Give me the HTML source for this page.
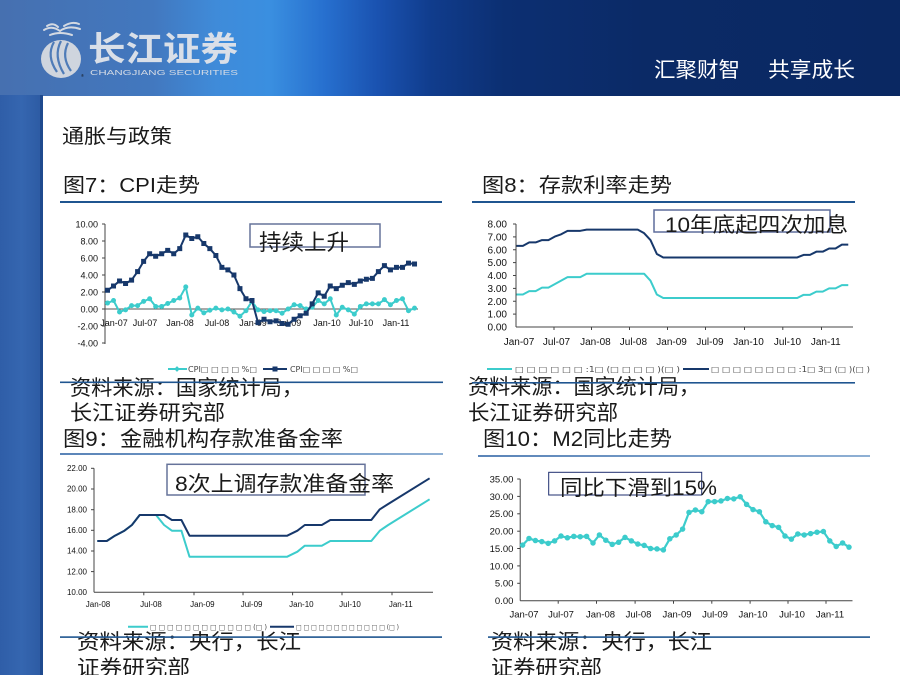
<!DOCTYPE html>
<html>
<head>
<meta charset="utf-8">
<style>
html,body{margin:0;padding:0;background:#fff;}
body{width:900px;height:675px;overflow:hidden;}
svg{display:block;}
.cj{font-family:"Liberation Sans","Noto Sans CJK SC",sans-serif;}
.ax{font-family:"Liberation Sans",sans-serif;fill:#111;}
.lg{font-family:"DejaVu Sans","Liberation Sans",sans-serif;fill:#444;}
</style>
</head>
<body>
<svg width="900" height="675" viewBox="0 0 900 675" xmlns="http://www.w3.org/2000/svg">
<defs>
<linearGradient id="hdr" x1="0" y1="0" x2="1" y2="0">
<stop offset="0" stop-color="#4670b0"/>
<stop offset="0.17" stop-color="#4278bf"/>
<stop offset="0.24" stop-color="#3f8bd9"/>
<stop offset="0.30" stop-color="#3a8fe0"/>
<stop offset="0.36" stop-color="#2770cf"/>
<stop offset="0.42" stop-color="#1a52b0"/>
<stop offset="0.48" stop-color="#103c8c"/>
<stop offset="0.56" stop-color="#0c2f72"/>
<stop offset="0.72" stop-color="#0b2a66"/>
<stop offset="1" stop-color="#0a2862"/>
</linearGradient>
<linearGradient id="strip" x1="0" y1="0" x2="1" y2="0">
<stop offset="0" stop-color="#2f5ea8"/>
<stop offset="0.5" stop-color="#3566b0"/>
<stop offset="1" stop-color="#2c5aa2"/>
</linearGradient>
<linearGradient id="lt" x1="0" y1="0" x2="1" y2="0">
<stop offset="0" stop-color="#5a84b8"/>
<stop offset="1" stop-color="#8fb0d4"/>
</linearGradient>
</defs>

<!-- background -->
<rect x="0" y="0" width="900" height="675" fill="#fff"/>
<!-- header -->
<rect x="0" y="0" width="900" height="96" fill="url(#hdr)"/>
<!-- left strip -->
<rect x="0" y="95" width="43" height="580" fill="url(#strip)"/>
<rect x="40" y="95" width="3" height="580" fill="#1f4a8e"/>

<!-- logo -->
<g fill="none" stroke="#d3d9e2" stroke-width="2" stroke-linecap="round">
<path d="M44,30 Q52,25 60,31 Q68,25 80,29"/>
<path d="M47,26 Q53,22 58,27"/>
<path d="M64,26 Q72,21 79,24"/>
<path d="M50,35 Q60,31 72,35"/>
</g>
<ellipse cx="61" cy="59" rx="20" ry="19" fill="#cfd5de"/>
<g fill="none" stroke="#4f7cb8" stroke-width="2.2">
<path d="M54,42 Q46,56 57,72"/>
<path d="M61,41 Q53,56 64,74"/>
<path d="M68,43 Q61,57 71,71"/>
</g>
<text x="81" y="77" font-size="4" fill="#d0d6e0" class="ax">®</text>
<text x="88" y="61" class="cj" font-size="34" font-weight="bold" fill="#d9dfe8" textLength="150" lengthAdjust="spacingAndGlyphs">长江证券</text>
<text x="90" y="75" font-family="Liberation Sans,sans-serif" font-size="7.5" fill="#d3dae5" textLength="148" lengthAdjust="spacingAndGlyphs">CHANGJIANG SECURITIES</text>

<!-- slogan -->
<text x="654" y="77" class="cj" font-size="21" fill="#ffffff" textLength="86" lengthAdjust="spacingAndGlyphs">汇聚财智</text>
<text x="768" y="77" class="cj" font-size="21" fill="#ffffff" textLength="87" lengthAdjust="spacingAndGlyphs">共享成长</text>

<!-- section titles -->
<text x="62" y="143" class="cj" font-size="20" fill="#1a1a1a" textLength="110" lengthAdjust="spacingAndGlyphs">通胀与政策</text>
<text x="63" y="192" class="cj" font-size="20" fill="#1a1a1a" textLength="137" lengthAdjust="spacingAndGlyphs">图7：CPI走势</text>
<text x="482" y="192" class="cj" font-size="20" fill="#1a1a1a" textLength="190" lengthAdjust="spacingAndGlyphs">图8：存款利率走势</text>
<rect x="60" y="201" width="382" height="2" fill="#1f5590"/>
<rect x="472" y="201" width="383" height="2" fill="#1f5590"/>

<!-- ================= CHART 7 ================= -->
<g class="ax" font-size="9" text-anchor="end">
<text x="98" y="227.5">10.00</text>
<text x="98" y="244.5">8.00</text>
<text x="98" y="261.5">6.00</text>
<text x="98" y="278.5">4.00</text>
<text x="98" y="295.5">2.00</text>
<text x="98" y="312.5">0.00</text>
<text x="98" y="329.5">-2.00</text>
<text x="98" y="346.5">-4.00</text>
</g>
<g stroke="#444" stroke-width="1">
<line x1="105" y1="224" x2="105" y2="344"/>
<line x1="102" y1="224" x2="105" y2="224"/>
<line x1="102" y1="241" x2="105" y2="241"/>
<line x1="102" y1="258" x2="105" y2="258"/>
<line x1="102" y1="275" x2="105" y2="275"/>
<line x1="102" y1="292" x2="105" y2="292"/>
<line x1="102" y1="309" x2="105" y2="309"/>
<line x1="102" y1="326" x2="105" y2="326"/>
<line x1="102" y1="343" x2="105" y2="343"/>
</g>
<line x1="105" y1="309" x2="418" y2="309" stroke="#555" stroke-width="1"/>
<g class="ax" font-size="9" text-anchor="middle">
<text x="114" y="326">Jan-07</text>
<text x="145" y="326">Jul-07</text>
<text x="180" y="326">Jan-08</text>
<text x="217" y="326">Jul-08</text>
<text x="253" y="326">Jan-09</text>
<text x="289" y="326">Jul-09</text>
<text x="327" y="326">Jan-10</text>
<text x="361" y="326">Jul-10</text>
<text x="396" y="326">Jan-11</text>
</g>
<g transform="translate(107.5,309) scale(6.02,-8.5)">
<polyline fill="none" stroke="#3ccccc" stroke-width="2" vector-effect="non-scaling-stroke" stroke-linejoin="round"
points="0,0.7 1,1 2,-0.35 3,-0.1 4,0.4 5,0.4 6,0.9 7,1.2 8,0.3 9,0.3 10,0.65 11,1 12,1.3 13,2.6 14,-0.7 15,0.1 16,-0.45 17,-0.15 18,0.1 19,-0.1 20,0 21,-0.35 22,-0.85 23,-0.2 24,0.9 25,-0.1 26,-0.3 27,-0.2 28,-0.2 29,-0.5 30,0 31,0.5 32,0.4 33,0 34,0.2 35,1 36,0.6 37,1.2 38,-0.7 39,0.2 40,-0.1 41,-0.6 42,0.3 43,0.6 44,0.6 45,0.6 46,1.1 47,0.5 48,1 49,1.2 50,-0.2 51,0.1"/>
<path fill="none" stroke="#3ccccc" stroke-width="5" stroke-linecap="round" vector-effect="non-scaling-stroke"
d="M0,0.7h0.001M1,1h0.001M2,-0.35h0.001M3,-0.1h0.001M4,0.4h0.001M5,0.4h0.001M6,0.9h0.001M7,1.2h0.001M8,0.3h0.001M9,0.3h0.001M10,0.65h0.001M11,1h0.001M12,1.3h0.001M13,2.6h0.001M14,-0.7h0.001M15,0.1h0.001M16,-0.45h0.001M17,-0.15h0.001M18,0.1h0.001M19,-0.1h0.001M20,0h0.001M21,-0.35h0.001M22,-0.85h0.001M23,-0.2h0.001M24,0.9h0.001M25,-0.1h0.001M26,-0.3h0.001M27,-0.2h0.001M28,-0.2h0.001M29,-0.5h0.001M30,0h0.001M31,0.5h0.001M32,0.4h0.001M33,0h0.001M34,0.2h0.001M35,1h0.001M36,0.6h0.001M37,1.2h0.001M38,-0.7h0.001M39,0.2h0.001M40,-0.1h0.001M41,-0.6h0.001M42,0.3h0.001M43,0.6h0.001M44,0.6h0.001M45,0.6h0.001M46,1.1h0.001M47,0.5h0.001M48,1h0.001M49,1.2h0.001M50,-0.2h0.001M51,0.1h0.001"/>
<polyline fill="none" stroke="#17386b" stroke-width="2" vector-effect="non-scaling-stroke" stroke-linejoin="round"
points="0,2.2 1,2.7 2,3.3 3,3 4,3.4 5,4.4 6,5.6 7,6.5 8,6.2 9,6.5 10,6.9 11,6.5 12,7.1 13,8.7 14,8.3 15,8.5 16,7.7 17,7.1 18,6.3 19,4.9 20,4.6 21,4 22,2.4 23,1.2 24,1 25,-1.6 26,-1.2 27,-1.5 28,-1.4 29,-1.7 30,-1.8 31,-1.2 32,-0.8 33,-0.5 34,0.6 35,1.9 36,1.5 37,2.7 38,2.4 39,2.8 40,3.1 41,2.9 42,3.3 43,3.5 44,3.6 45,4.4 46,5.1 47,4.6 48,4.9 49,4.9 50,5.4 51,5.3"/>
<path fill="none" stroke="#17386b" stroke-width="5" stroke-linecap="square" vector-effect="non-scaling-stroke"
d="M0,2.2h0.001M1,2.7h0.001M2,3.3h0.001M3,3h0.001M4,3.4h0.001M5,4.4h0.001M6,5.6h0.001M7,6.5h0.001M8,6.2h0.001M9,6.5h0.001M10,6.9h0.001M11,6.5h0.001M12,7.1h0.001M13,8.7h0.001M14,8.3h0.001M15,8.5h0.001M16,7.7h0.001M17,7.1h0.001M18,6.3h0.001M19,4.9h0.001M20,4.6h0.001M21,4h0.001M22,2.4h0.001M23,1.2h0.001M24,1h0.001M25,-1.6h0.001M26,-1.2h0.001M27,-1.5h0.001M28,-1.4h0.001M29,-1.7h0.001M30,-1.8h0.001M31,-1.2h0.001M32,-0.8h0.001M33,-0.5h0.001M34,0.6h0.001M35,1.9h0.001M36,1.5h0.001M37,2.7h0.001M38,2.4h0.001M39,2.8h0.001M40,3.1h0.001M41,2.9h0.001M42,3.3h0.001M43,3.5h0.001M44,3.6h0.001M45,4.4h0.001M46,5.1h0.001M47,4.6h0.001M48,4.9h0.001M49,4.9h0.001M50,5.4h0.001M51,5.3h0.001"/>
</g>
<!-- annotation 7 -->
<rect x="250" y="224" width="130" height="23" fill="#fff" stroke="#66739a" stroke-width="1.5"/>
<text x="259" y="250" class="cj" font-size="22" fill="#1a1a1a" textLength="90" lengthAdjust="spacingAndGlyphs">持续上升</text>
<!-- legend 7 -->
<line x1="168" y1="369" x2="187" y2="369" stroke="#3ccccc" stroke-width="2"/>
<rect x="175" y="367" width="4" height="4" fill="#3ccccc" transform="rotate(45 177 369)"/>
<text x="188" y="372" class="lg" font-size="7.5" textLength="69" lengthAdjust="spacingAndGlyphs">CPI□ □ □ □ %□</text>
<line x1="263" y1="369" x2="287" y2="369" stroke="#17386b" stroke-width="2"/>
<rect x="272.5" y="366.5" width="5" height="5" fill="#17386b"/>
<text x="290" y="372" class="lg" font-size="7.5" textLength="68" lengthAdjust="spacingAndGlyphs">CPI□ □ □ □ %□</text>

<!-- ================= CHART 8 ================= -->
<g class="ax" font-size="10" text-anchor="end">
<text x="507" y="227.5">8.00</text>
<text x="507" y="240.4">7.00</text>
<text x="507" y="253.3">6.00</text>
<text x="507" y="266.1">5.00</text>
<text x="507" y="279">4.00</text>
<text x="507" y="291.9">3.00</text>
<text x="507" y="304.8">2.00</text>
<text x="507" y="317.6">1.00</text>
<text x="507" y="330.5">0.00</text>
</g>
<g stroke="#444" stroke-width="1">
<line x1="516" y1="224" x2="516" y2="327"/>
<line x1="513" y1="224" x2="516" y2="224"/>
<line x1="513" y1="236.9" x2="516" y2="236.9"/>
<line x1="513" y1="249.75" x2="516" y2="249.75"/>
<line x1="513" y1="262.6" x2="516" y2="262.6"/>
<line x1="513" y1="275.5" x2="516" y2="275.5"/>
<line x1="513" y1="288.4" x2="516" y2="288.4"/>
<line x1="513" y1="301.25" x2="516" y2="301.25"/>
<line x1="513" y1="314.1" x2="516" y2="314.1"/>
<line x1="516" y1="327" x2="853" y2="327"/>
<line x1="554" y1="327" x2="554" y2="330"/>
<line x1="591.5" y1="327" x2="591.5" y2="330"/>
<line x1="629.5" y1="327" x2="629.5" y2="330"/>
<line x1="667.5" y1="327" x2="667.5" y2="330"/>
<line x1="705.5" y1="327" x2="705.5" y2="330"/>
<line x1="744.5" y1="327" x2="744.5" y2="330"/>
<line x1="782.8" y1="327" x2="782.8" y2="330"/>
<line x1="821.5" y1="327" x2="821.5" y2="330"/>
</g>
<g class="ax" font-size="10" text-anchor="middle">
<text x="519" y="345">Jan-07</text>
<text x="556.5" y="345">Jul-07</text>
<text x="595.4" y="345">Jan-08</text>
<text x="633.4" y="345">Jul-08</text>
<text x="671.6" y="345">Jan-09</text>
<text x="710" y="345">Jul-09</text>
<text x="748.5" y="345">Jan-10</text>
<text x="787.5" y="345">Jul-10</text>
<text x="825.8" y="345">Jan-11</text>
</g>
<g transform="translate(516.5,327) scale(6.38,-12.875)">
<polyline fill="none" stroke="#3ccccc" stroke-width="2" vector-effect="non-scaling-stroke" stroke-linejoin="round"
points="0,2.52 1,2.52 2,2.79 3,2.79 4,3.06 5,3.06 6,3.33 7,3.6 8,3.87 9,3.87 10,3.87 11,4.14 20,4.14 21,3.6 22,2.52 23,2.25 44,2.25 45,2.5 46,2.5 47,2.75 48,2.75 49,3 50,3 51,3.25 52,3.25"/>
<polyline fill="none" stroke="#17386b" stroke-width="2" vector-effect="non-scaling-stroke" stroke-linejoin="round"
points="0,6.3 1,6.3 2,6.57 3,6.57 4,6.75 5,6.75 6,7.02 7,7.2 8,7.47 9,7.47 10,7.47 11,7.56 19,7.56 20,7.29 21,6.75 22,5.67 23,5.4 44,5.4 45,5.6 46,5.6 47,5.85 48,5.85 49,6.1 50,6.1 51,6.4 52,6.4"/>
</g>
<rect x="654" y="210" width="176" height="22" fill="#fff" stroke="#5e6d9c" stroke-width="1.5"/>
<text x="665" y="232" class="cj" font-size="21" fill="#1a1a1a" textLength="183" lengthAdjust="spacingAndGlyphs">10年底起四次加息</text>
<!-- legend 8 -->
<line x1="487" y1="369" x2="512" y2="369" stroke="#3ccccc" stroke-width="2"/>
<text x="515" y="372" class="lg" font-size="7.5" textLength="165" lengthAdjust="spacingAndGlyphs">□ □ □ □ □ □ :1□ (□ □ □ □ )(□ )</text>
<line x1="683" y1="369" x2="709" y2="369" stroke="#17386b" stroke-width="2"/>
<text x="711" y="372" class="lg" font-size="7.5" textLength="159" lengthAdjust="spacingAndGlyphs">□ □ □ □ □ □ □ □ :1□ 3□ (□ )(□ )</text>

<!-- captions row 1 -->
<text x="70" y="395" class="cj" font-size="21" fill="#1a1a1a" textLength="233" lengthAdjust="spacingAndGlyphs">资料来源：国家统计局，</text>
<text x="70" y="420" class="cj" font-size="21" fill="#1a1a1a" textLength="155" lengthAdjust="spacingAndGlyphs">长江证券研究部</text>
<text x="63" y="446" class="cj" font-size="21" fill="#1a1a1a" textLength="280" lengthAdjust="spacingAndGlyphs">图9：金融机构存款准备金率</text>
<text x="468" y="394" class="cj" font-size="21" fill="#1a1a1a" textLength="232" lengthAdjust="spacingAndGlyphs">资料来源：国家统计局，</text>
<text x="468" y="420" class="cj" font-size="21" fill="#1a1a1a" textLength="150" lengthAdjust="spacingAndGlyphs">长江证券研究部</text>
<text x="483" y="446" class="cj" font-size="21" fill="#1a1a1a" textLength="189" lengthAdjust="spacingAndGlyphs">图10：M2同比走势</text>
<rect x="60" y="381.5" width="383" height="1.6" fill="#1f5590"/>
<rect x="472" y="382" width="383" height="1.6" fill="#1f5590"/>
<rect x="60" y="453" width="383" height="2" fill="url(#lt)"/>
<rect x="478" y="455" width="392" height="2" fill="url(#lt)"/>

<!-- ================= CHART 9 ================= -->
<g class="ax" font-size="8" text-anchor="end">
<text x="87" y="471">22.00</text>
<text x="87" y="491.7">20.00</text>
<text x="87" y="512.4">18.00</text>
<text x="87" y="533">16.00</text>
<text x="87" y="553.7">14.00</text>
<text x="87" y="574.3">12.00</text>
<text x="87" y="595">10.00</text>
</g>
<g stroke="#444" stroke-width="1">
<line x1="94" y1="468.3" x2="94" y2="592.3"/>
<line x1="91" y1="468.3" x2="94" y2="468.3"/>
<line x1="91" y1="489" x2="94" y2="489"/>
<line x1="91" y1="509.7" x2="94" y2="509.7"/>
<line x1="91" y1="530.3" x2="94" y2="530.3"/>
<line x1="91" y1="551" x2="94" y2="551"/>
<line x1="91" y1="571.6" x2="94" y2="571.6"/>
<line x1="94" y1="592.3" x2="433" y2="592.3"/>
<line x1="143.8" y1="592.3" x2="143.8" y2="595.3"/>
<line x1="194" y1="592.3" x2="194" y2="595.3"/>
<line x1="243" y1="592.3" x2="243" y2="595.3"/>
<line x1="292.6" y1="592.3" x2="292.6" y2="595.3"/>
<line x1="342" y1="592.3" x2="342" y2="595.3"/>
<line x1="392" y1="592.3" x2="392" y2="595.3"/>
</g>
<g class="ax" font-size="8" text-anchor="middle">
<text x="98" y="607">Jan-08</text>
<text x="151" y="607">Jul-08</text>
<text x="202.4" y="607">Jan-09</text>
<text x="251.6" y="607">Jul-09</text>
<text x="301.4" y="607">Jan-10</text>
<text x="350" y="607">Jul-10</text>
<text x="400.8" y="607">Jan-11</text>
</g>
<polyline fill="none" stroke="#3ccccc" stroke-width="2" stroke-linejoin="round"
points="97.3,541 106.8,541 114.9,535.7 124.4,530.7 131.9,525 139.7,515 156,515 164.1,525 171.9,530.7 181.4,530.7 189.5,556.7 287.2,556.7 297.4,551.7 304.8,545.7 321.8,545.7 330.3,541 371.3,541 379.8,530.7 388.2,525 429.6,499.3"/>
<polyline fill="none" stroke="#17386b" stroke-width="2" stroke-linejoin="round"
points="97.3,541 106.8,541 114.9,535.7 124.4,530.7 131.9,525 139.7,515 164.1,515 171.9,520 181.4,520 189.5,535.7 287.2,535.7 297.4,530.7 304.8,525 321.8,525 330.3,520 371.3,520 379.8,509.3 388.2,504 429.6,478.3"/>
<rect x="167" y="464.3" width="198" height="30.7" fill="none" stroke="#66739a" stroke-width="1.5"/>
<text x="175" y="491" class="cj" font-size="21" fill="#1a1a1a" textLength="219" lengthAdjust="spacingAndGlyphs">8次上调存款准备金率</text>
<!-- legend 9 -->
<line x1="128" y1="626.7" x2="148" y2="626.7" stroke="#3ccccc" stroke-width="2"/>
<text x="150" y="629.5" class="lg" font-size="7" textLength="117" lengthAdjust="spacingAndGlyphs">□ □ □ □ □ □ □ □ □ □ □ □ (□ )</text>
<line x1="270" y1="626.7" x2="294" y2="626.7" stroke="#17386b" stroke-width="2"/>
<text x="296" y="629.5" class="lg" font-size="7" textLength="103" lengthAdjust="spacingAndGlyphs">□ □ □ □ □ □ □ □ □ □ □ □ (□ )</text>

<!-- ================= CHART 10 ================= -->
<g class="ax" font-size="9.5" text-anchor="end">
<text x="513.4" y="482.4">35.00</text>
<text x="513.4" y="499.8">30.00</text>
<text x="513.4" y="517.2">25.00</text>
<text x="513.4" y="534.6">20.00</text>
<text x="513.4" y="551.9">15.00</text>
<text x="513.4" y="569.3">10.00</text>
<text x="513.4" y="586.7">5.00</text>
<text x="513.4" y="604.1">0.00</text>
</g>
<g stroke="#444" stroke-width="1">
<line x1="520.2" y1="479" x2="520.2" y2="600.7"/>
<line x1="517.2" y1="479" x2="520.2" y2="479"/>
<line x1="517.2" y1="496.4" x2="520.2" y2="496.4"/>
<line x1="517.2" y1="513.8" x2="520.2" y2="513.8"/>
<line x1="517.2" y1="531.2" x2="520.2" y2="531.2"/>
<line x1="517.2" y1="548.5" x2="520.2" y2="548.5"/>
<line x1="517.2" y1="565.9" x2="520.2" y2="565.9"/>
<line x1="517.2" y1="583.3" x2="520.2" y2="583.3"/>
<line x1="520.2" y1="600.7" x2="852.5" y2="600.7"/>
<line x1="558.2" y1="600.7" x2="558.2" y2="603.7"/>
<line x1="596.5" y1="600.7" x2="596.5" y2="603.7"/>
<line x1="635.1" y1="600.7" x2="635.1" y2="603.7"/>
<line x1="673.5" y1="600.7" x2="673.5" y2="603.7"/>
<line x1="711.8" y1="600.7" x2="711.8" y2="603.7"/>
<line x1="750.1" y1="600.7" x2="750.1" y2="603.7"/>
<line x1="788" y1="600.7" x2="788" y2="603.7"/>
<line x1="826" y1="600.7" x2="826" y2="603.7"/>
</g>
<g class="ax" font-size="9.5" text-anchor="middle">
<text x="524" y="617.5">Jan-07</text>
<text x="561" y="617.5">Jul-07</text>
<text x="600.5" y="617.5">Jan-08</text>
<text x="638.5" y="617.5">Jul-08</text>
<text x="677" y="617.5">Jan-09</text>
<text x="715" y="617.5">Jul-09</text>
<text x="753" y="617.5">Jan-10</text>
<text x="792" y="617.5">Jul-10</text>
<text x="830" y="617.5">Jan-11</text>
</g>
<g transform="translate(522.6,600.7) scale(6.40,-3.477)">
<polyline fill="none" stroke="#3ccccc" stroke-width="2.2" vector-effect="non-scaling-stroke" stroke-linejoin="round"
points="0,16 1,17.9 2,17.3 3,17 4,16.5 5,17.2 6,18.6 7,18.1 8,18.5 9,18.4 10,18.5 11,16.6 12,18.9 13,17.4 14,16.2 15,16.8 16,18.2 17,17.2 18,16.3 19,15.9 20,15 21,14.9 22,14.6 23,17.8 24,18.9 25,20.6 26,25.4 27,26.1 28,25.6 29,28.5 30,28.5 31,28.7 32,29.4 33,29.3 34,29.9 35,27.7 36,26.2 37,25.6 38,22.7 39,21.6 40,21.1 41,18.6 42,17.7 43,19.2 44,18.9 45,19.3 46,19.7 47,19.9 48,17.2 49,15.6 50,16.6 51,15.4"/>
<path fill="none" stroke="#3ccccc" stroke-width="5.5" stroke-linecap="round" vector-effect="non-scaling-stroke"
d="M0,16h0.001M1,17.9h0.001M2,17.3h0.001M3,17h0.001M4,16.5h0.001M5,17.2h0.001M6,18.6h0.001M7,18.1h0.001M8,18.5h0.001M9,18.4h0.001M10,18.5h0.001M11,16.6h0.001M12,18.9h0.001M13,17.4h0.001M14,16.2h0.001M15,16.8h0.001M16,18.2h0.001M17,17.2h0.001M18,16.3h0.001M19,15.9h0.001M20,15h0.001M21,14.9h0.001M22,14.6h0.001M23,17.8h0.001M24,18.9h0.001M25,20.6h0.001M26,25.4h0.001M27,26.1h0.001M28,25.6h0.001M29,28.5h0.001M30,28.5h0.001M31,28.7h0.001M32,29.4h0.001M33,29.3h0.001M34,29.9h0.001M35,27.7h0.001M36,26.2h0.001M37,25.6h0.001M38,22.7h0.001M39,21.6h0.001M40,21.1h0.001M41,18.6h0.001M42,17.7h0.001M43,19.2h0.001M44,18.9h0.001M45,19.3h0.001M46,19.7h0.001M47,19.9h0.001M48,17.2h0.001M49,15.6h0.001M50,16.6h0.001M51,15.4h0.001"/>
</g>
<rect x="548.7" y="472.3" width="153" height="22.7" fill="none" stroke="#1f2f6f" stroke-width="1"/>
<text x="560" y="495" class="cj" font-size="21" fill="#1a1a1a" textLength="157" lengthAdjust="spacingAndGlyphs">同比下滑到15%</text>

<!-- bottom captions -->
<text x="77" y="649" class="cj" font-size="21" fill="#1a1a1a" textLength="224" lengthAdjust="spacingAndGlyphs">资料来源：央行，长江</text>
<text x="77" y="675" class="cj" font-size="21" fill="#1a1a1a" textLength="113" lengthAdjust="spacingAndGlyphs">证券研究部</text>
<text x="491" y="649" class="cj" font-size="21" fill="#1a1a1a" textLength="221" lengthAdjust="spacingAndGlyphs">资料来源：央行，长江</text>
<text x="491" y="675" class="cj" font-size="21" fill="#1a1a1a" textLength="111" lengthAdjust="spacingAndGlyphs">证券研究部</text>
<rect x="60" y="636.3" width="382" height="1.6" fill="#1f5590"/>
<rect x="488" y="636.3" width="382" height="1.6" fill="#1f5590"/>
</svg>
</body>
</html>
